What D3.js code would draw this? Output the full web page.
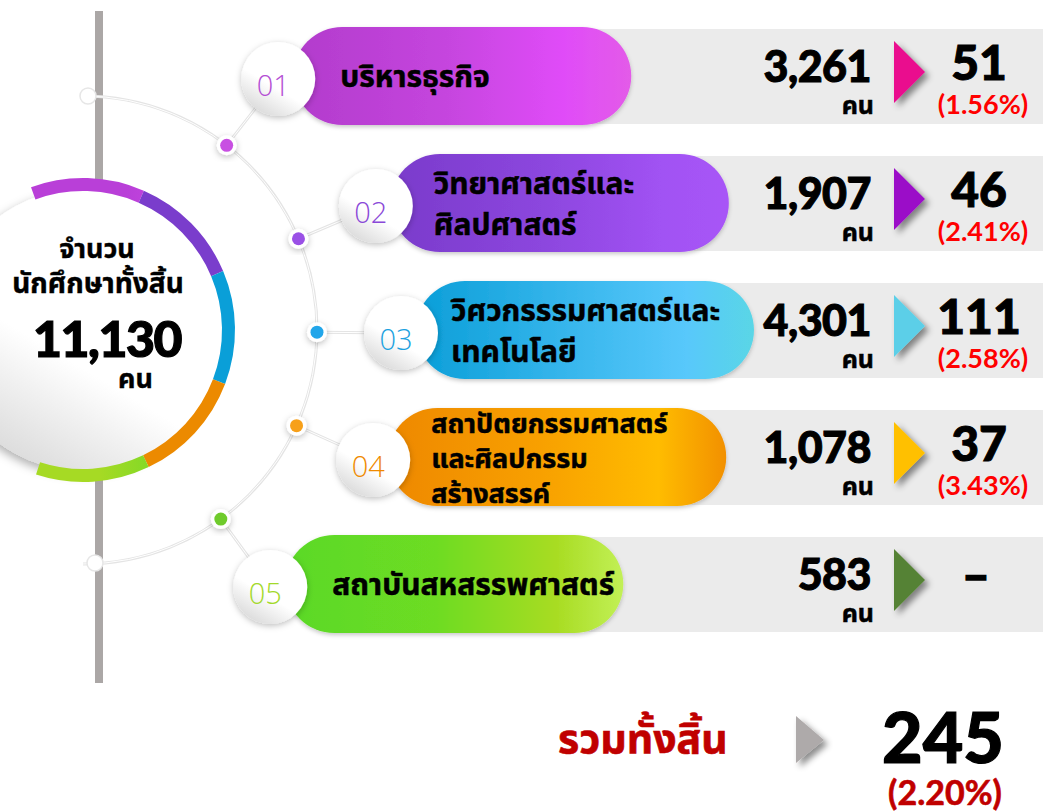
<!DOCTYPE html>
<html lang="th">
<head>
<meta charset="UTF-8">
<title>จำนวนนักศึกษาทั้งสิ้น</title>
<script src="https://d3js.org/d3.v7.min.js"></script>
<style>
  body { margin: 0; background: #fff; }
  svg { display: block; }
  .th { font-family: "Noto Sans Thai", "Noto Sans Thai UI", "Kanit", "Noto Sans", sans-serif; }
  .num { font-family: "Lato", "Inter", sans-serif; }
</style>
</head>
<body>
<svg id="chart" width="1043" height="812"></svg>
<script>
// data
const faculties = [
  ["บริหารธุรกิจ"],
  ["วิทยาศาสตร์และ", "ศิลปศาสตร์"],
  ["วิศวกรรรมศาสตร์และ", "เทคโนโลยี"],
  ["สถาปัตยกรรมศาสตร์", "และศิลปกรรม", "สร้างสรรค์"],
  ["สถาบันสหสรรพศาสตร์"]
];
const codes = ["01", "02", "03", "04", "05"];
const students = [3261, 1907, 4301, 1078, 583];
const leavers = [51, 46, 111, 37, null];
const unit = "คน";
const centreTitle = ["จำนวน", "นักศึกษาทั้งสิ้น"];
const totalLabel = "รวมทั้งสิ้น";

// colours
const pillStops = [
  ["#b23ccc", "#c545de", "#e04cf8", "#e35be8"],
  ["#7a3bcb", "#8c46de", "#a152f3", "#a855f7"],
  ["#0a9ed8", "#37b6ec", "#58c8fb", "#5ad6e6"],
  ["#ee8800", "#f8a000", "#ffbc00", "#f29000"],
  ["#5ad926", "#6edc24", "#a8dc22", "#c2f056"]
];
const ringColors = [
  ["#b93fd8", "#d94ff2"], ["#7a3dcc", "#a857f6"], ["#0a9fd8", "#5dcafb"],
  ["#ec8a00", "#ffbe00"], ["#5ed82a", "#a6da24"]
];
const arrowColors = ["#ea0a8e", "#9b0fc8", "#5bcfe8", "#ffc000", "#548235"];
const codeColors = ["#b44fd4", "#8a48d8", "#1ca2e0", "#ef8a00", "#a3d92a"];
const dotColors = ["#c84fe2", "#9a50e6", "#22a6ea", "#f7a01a", "#6fcb2c"];

const W = 1043, H = 812;
const cx = 83, cy = 330;
const rDot = 234, rCode = 318;
const pct = d3.format(".2%");
const fmt = d3.format(",");

const svg = d3.select("#chart");
const defs = svg.append("defs");

function shadow(id, dx, dy, sd, op) {
  defs.append("filter").attr("id", id)
    .attr("x", "-30%").attr("y", "-30%").attr("width", "160%").attr("height", "160%")
    .append("feDropShadow")
    .attr("dx", dx).attr("dy", dy).attr("stdDeviation", sd)
    .attr("flood-color", "#000").attr("flood-opacity", op);
}
shadow("sh-soft", 0, 2, 3, 0.25);
shadow("sh-pill", 0, 2, 2, 0.22);
shadow("sh-arrow", 4, 4, 3, 0.45);
shadow("sh-disk", -2, 4, 5, 0.3);

const rowY = d3.scalePoint().domain(d3.range(faculties.length)).range([76, 584]);
const angle = i => Math.asin((rowY(i) + 3 - cy) / rCode);
const polar = (r, a) => [cx + r * Math.cos(a), cy + r * Math.sin(a)];

// vertical bar
svg.append("rect").attr("x", 95).attr("y", 11).attr("width", 8).attr("height", 672).attr("fill", "#aba7a6");

// connector arc
const arcPath = d3.path();
arcPath.arc(cx, cy, rDot, -Math.PI / 2, Math.PI / 2);
svg.append("path").attr("d", arcPath.toString()).attr("fill", "none")
  .attr("stroke", "#e4e4e4").attr("stroke-width", 3);
svg.append("path").attr("d", arcPath.toString()).attr("fill", "none")
  .attr("stroke", "#fff").attr("stroke-width", 1);
[[cx + 5, cy - rDot], [cx + 12, cy + rDot - 1]].forEach(p => {
  svg.append("circle").attr("cx", p[0]).attr("cy", p[1]).attr("r", 8)
    .attr("fill", "#fff").attr("stroke", "#e6e6e6").attr("stroke-width", 1.5);
});

// centre disk
const diskGrad = defs.append("linearGradient").attr("id", "disk")
  .attr("x1", 0.8).attr("y1", 0).attr("x2", 0.2).attr("y2", 1);
diskGrad.append("stop").attr("offset", 0).attr("stop-color", "#fff");
diskGrad.append("stop").attr("offset", 0.6).attr("stop-color", "#fff");
diskGrad.append("stop").attr("offset", 1).attr("stop-color", "#d6d6d6");
svg.append("circle").attr("cx", cx).attr("cy", cy).attr("r", 141)
  .attr("fill", "url(#disk)").attr("filter", "url(#sh-disk)");

// ring segments
const pie = d3.pie().value(() => 1).sort(null)
  .startAngle(-20 * Math.PI / 180).endAngle(198 * Math.PI / 180);
const ringArc = d3.arc().innerRadius(139).outerRadius(152);
const onArc = (r, a) => [cx + r * Math.sin(a), cy - r * Math.cos(a)];
pie(students).forEach((s, i) => {
  const p0 = onArc(146, s.startAngle), p1 = onArc(146, s.endAngle);
  const g = defs.append("linearGradient").attr("id", "ring" + i)
    .attr("gradientUnits", "userSpaceOnUse")
    .attr("x1", p0[0]).attr("y1", p0[1]).attr("x2", p1[0]).attr("y2", p1[1]);
  g.append("stop").attr("offset", 0).attr("stop-color", ringColors[i][0]);
  g.append("stop").attr("offset", 1).attr("stop-color", ringColors[i][1]);
  svg.append("path").attr("transform", `translate(${cx},${cy})`)
    .attr("d", ringArc(s)).attr("fill", `url(#ring${i})`);
});

// centre text
svg.append("text").attr("class", "th").attr("x", 97).attr("y", 258)
  .attr("text-anchor", "middle").attr("font-size", 27).attr("font-weight", 700)
  .attr("stroke", "#000").attr("stroke-width", 0.4)
  .text(centreTitle[0]);
svg.append("text").attr("class", "th").attr("x", 98).attr("y", 293)
  .attr("text-anchor", "middle").attr("font-size", 28).attr("font-weight", 700)
  .attr("stroke", "#000").attr("stroke-width", 0.4)
  .text(centreTitle[1]);
svg.append("text").attr("class", "num").attr("x", 107).attr("y", 357)
  .attr("text-anchor", "middle").attr("font-size", 50).attr("font-weight", 900)
  .attr("stroke", "#000").attr("stroke-width", 1.2)
  .attr("letter-spacing", -1.5).text(fmt(d3.sum(students)));
svg.append("text").attr("class", "th").attr("x", 153).attr("y", 388)
  .attr("text-anchor", "end").attr("font-size", 27).attr("font-weight", 700)
  .attr("stroke", "#000").attr("stroke-width", 0.4)
  .text(unit);

// rows
faculties.forEach((lines, i) => {
  const y = rowY(i);
  const a = angle(i);
  const [dx, dy] = polar(rDot, a);
  const [kx, ky] = polar(rCode, a);

  // connector to code circle
  svg.append("line").attr("x1", dx).attr("y1", dy).attr("x2", kx).attr("y2", ky)
    .attr("stroke", "#e4e4e4").attr("stroke-width", 3);
  svg.append("line").attr("x1", dx).attr("y1", dy).attr("x2", kx).attr("y2", ky)
    .attr("stroke", "#fff").attr("stroke-width", 1);
  svg.append("circle").attr("cx", dx).attr("cy", dy).attr("r", 10)
    .attr("fill", "#fff").attr("filter", "url(#sh-soft)");
  svg.append("circle").attr("cx", dx).attr("cy", dy).attr("r", 6.5)
    .attr("fill", dotColors[i]);

  // grey band
  svg.append("rect").attr("x", kx + 180).attr("y", y - 47)
    .attr("width", W - kx - 180).attr("height", 95).attr("fill", "#ebebeb");

  // pill
  const pg = defs.append("linearGradient").attr("id", "pill" + i);
  [0, 0.45, 0.8, 1].forEach((o, j) => pg.append("stop").attr("offset", o).attr("stop-color", pillStops[i][j]));
  svg.append("rect").attr("x", kx + 15).attr("y", y - 49).attr("width", 338).attr("height", 98)
    .attr("rx", 49).attr("fill", `url(#pill${i})`).attr("filter", "url(#sh-pill)");

  // code circle
  svg.append("circle").attr("cx", kx).attr("cy", ky).attr("r", 37)
    .attr("fill", "url(#disk)").attr("filter", "url(#sh-soft)");
  svg.append("text").attr("x", kx - 5).attr("y", ky + 17)
    .attr("text-anchor", "middle").attr("font-family", "'Open Sans', sans-serif")
    .attr("font-weight", 300).attr("font-size", 29).attr("fill", codeColors[i])
    .text(codes[i]);

  // faculty label
  const n = lines.length;
  const lh = n === 3 ? 35 : 41;
  const fs = n === 3 ? 27 : 30;
  lines.forEach((t, k) => {
    svg.append("text").attr("class", "th").attr("x", kx + 58 - (i === 2 ? 8 : 0) + (i === 4 || i === 0 ? 4 : 0))
      .attr("y", y + 3 + (k - (n - 1) / 2) * lh + 8)
      .attr("font-size", fs).attr("font-weight", 700).attr("fill", "#000")
      .attr("stroke", "#000").attr("stroke-width", 0.5)
      .text(t);
  });

  // student count
  svg.append("text").attr("class", "num").attr("x", 871).attr("y", y + 6)
    .attr("text-anchor", "end").attr("font-size", 43).attr("font-weight", 900)
    .attr("stroke", "#000").attr("stroke-width", 1)
    .attr("letter-spacing", -0.5).text(fmt(students[i]));
  svg.append("text").attr("class", "th").attr("x", 874).attr("y", y + 38)
    .attr("text-anchor", "end").attr("font-size", 25).attr("font-weight", 700)
    .attr("stroke", "#000").attr("stroke-width", 0.5)
    .text(unit);

  // arrow
  const ty = y - 4;
  svg.append("path")
    .attr("d", `M${894},${ty - 31}L${925},${ty}L${894},${ty + 31}Z`)
    .attr("fill", arrowColors[i]).attr("filter", "url(#sh-arrow)");

  // leavers
  if (leavers[i] != null) {
    svg.append("text").attr("class", "num").attr("x", 979).attr("y", y + 4)
      .attr("text-anchor", "middle").attr("font-size", 48).attr("font-weight", 900)
      .attr("stroke", "#000").attr("stroke-width", 1)
      .text(leavers[i]);
    svg.append("text").attr("class", "num").attr("x", 983).attr("y", y + 38)
      .attr("text-anchor", "middle").attr("font-size", 27).attr("font-weight", 700)
      .attr("fill", "#ff0000").text(`(${pct(leavers[i] / students[i])})`);
  } else {
    svg.append("text").attr("class", "num").attr("x", 976).attr("y", y + 8)
      .attr("text-anchor", "middle").attr("font-size", 48).attr("font-weight", 900)
      .attr("stroke", "#000").attr("stroke-width", 1.5)
      .text("–");
  }
});

// total
const totalLeavers = d3.sum(leavers);
svg.append("text").attr("class", "th").attr("x", 558).attr("y", 753)
  .attr("font-size", 41).attr("font-weight", 700).attr("fill", "#c00000")
  .attr("stroke", "#c00000").attr("stroke-width", 0.6)
  .text(totalLabel);
svg.append("path").attr("d", "M796,716L824,740L796,763Z")
  .attr("fill", "#aeaaaa").attr("filter", "url(#sh-arrow)");
svg.append("text").attr("class", "num").attr("x", 943).attr("y", 763)
  .attr("text-anchor", "middle").attr("font-size", 70).attr("font-weight", 900)
  .attr("stroke", "#000").attr("stroke-width", 1.2)
  .text(totalLeavers);
svg.append("text").attr("class", "num").attr("x", 945).attr("y", 805)
  .attr("text-anchor", "middle").attr("font-size", 34).attr("font-weight", 700)
  .attr("fill", "#c00000").attr("stroke", "#c00000").attr("stroke-width", 0.6)
  .text(`(${pct(totalLeavers / d3.sum(students))})`);
</script>
</body>
</html>
